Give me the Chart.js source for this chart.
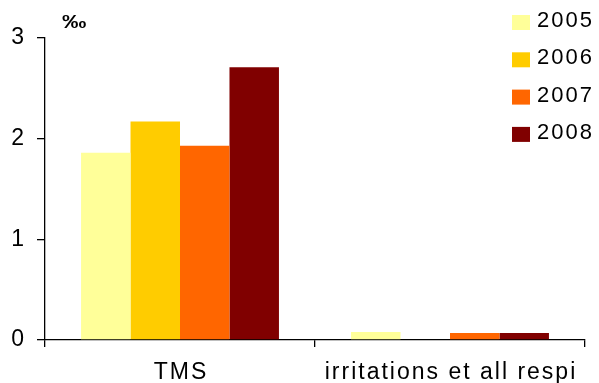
<!DOCTYPE html>
<html>
<head>
<meta charset="utf-8">
<script src="https://cdn.jsdelivr.net/npm/chart.js@4.4.1/dist/chart.umd.min.js"></script>
<style>
  html, body { margin: 0; padding: 0; background: #fff; }
  #wrap { width: 599px; height: 383px; }
</style>
</head>
<body>
<div id="wrap"><canvas id="chart" width="599" height="383"></canvas></div>
<script>
// data
const categories = ["TMS", "irritations et all respi"];
const years = ["2005", "2006", "2007", "2008"];
const values2005 = [1.86, 0.08];
const values2006 = [2.17, 0];
const values2007 = [1.93, 0.07];
const values2008 = [2.71, 0.07];
const yTicks = [0, 1, 2, 3];
const unitLabel = "‰";

const colors = ["#FFFF99", "#FFCC00", "#FF6600", "#800000"];
const seriesValues = [values2005, values2006, values2007, values2008];

const font = "'Liberation Sans', Arial, sans-serif";

// x labels and legend drawn by hand (letter spacing like the original)
const extras = {
  id: "extras",
  afterDraw(chart) {
    const ctx = chart.ctx;
    const xs = chart.scales.x;
    ctx.save();
    ctx.fillStyle = "#000";
    ctx.textBaseline = "alphabetic";
    ctx.letterSpacing = "2px";
    ctx.font = "23px " + font;
    ctx.textAlign = "center";
    categories.forEach((c, i) => {
      ctx.fillText(c, xs.getPixelForValue(i) + 1, 379);
    });

    // legend
    ctx.textAlign = "left";
    ctx.font = "22px " + font;
    chart.data.datasets.forEach((ds, i) => {
      ctx.fillStyle = ds.backgroundColor;
      ctx.fillRect(512, 15 + i * 37.3, 18, 15);
      ctx.fillStyle = "#000";
      ctx.fillText(ds.label, 537, 27 + i * 37.4);
    });

    // unit, a bit wider than the plain glyph
    ctx.letterSpacing = "0px";
    ctx.font = "bold 19px " + font;
    ctx.translate(62, 28);
    ctx.scale(1.28, 1);
    ctx.fillText(unitLabel, 0, 0);
    ctx.restore();
  }
};

const ctx = document.getElementById("chart").getContext("2d");
new Chart(ctx, {
  type: "bar",
  data: {
    labels: categories,
    datasets: years.map((y, i) => ({
      label: y,
      data: seriesValues[i],
      backgroundColor: colors[i],
      borderWidth: 0,
      categoryPercentage: 0.733,
      barPercentage: 1
    }))
  },
  options: {
    responsive: false,
    animation: false,
    layout: { padding: { top: 38, right: 14, left: 0, bottom: 0 } },
    plugins: {
      legend: { display: false },
      tooltip: { enabled: false }
    },
    scales: {
      x: {
        afterFit(scale) { scale.height = 43; },
        grid: {
          offset: true,
          drawOnChartArea: false,
          drawTicks: true,
          tickLength: 7,
          color: "#000",
          lineWidth: 1.3
        },
        border: { display: true, color: "#000", width: 1.3 },
        ticks: { display: false }
      },
      y: {
        min: 0,
        max: 3,
        afterFit(scale) { scale.width = 45; },
        afterBuildTicks(scale) { scale.ticks = yTicks.map(v => ({ value: v })); },
        grid: {
          drawOnChartArea: false,
          drawTicks: true,
          tickLength: 8,
          color: "#000",
          lineWidth: 1.3
        },
        border: { display: true, color: "#000", width: 1.3 },
        ticks: {
          padding: 13,
          color: "#000",
          font: { family: font, size: 23 }
        }
      }
    }
  },
  plugins: [extras]
});
</script>
</body>
</html>
